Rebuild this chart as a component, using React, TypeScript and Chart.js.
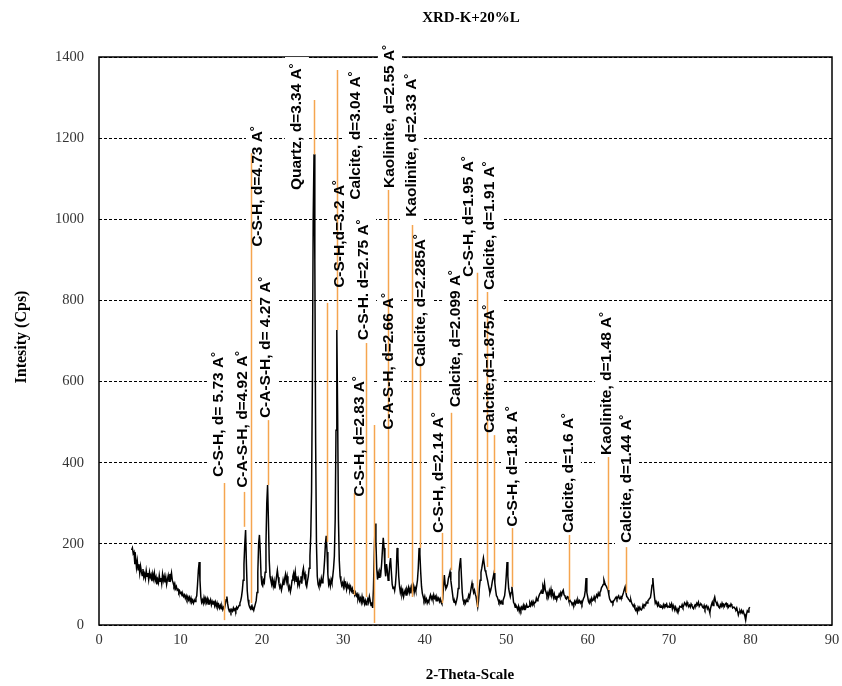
import React, { useEffect, useRef } from "react";
import { Chart, registerables } from "chart.js";

Chart.register(...registerables);

const chartTitle = "XRD-K+20%L";
const xAxisTitle = "2-Theta-Scale";
const yAxisTitle = "Intesity (Cps)";

const twoTheta = [
  4.0, 4.1, 4.2, 4.3, 4.4, 4.5, 4.6, 4.7, 4.8, 4.9,
  5.0, 5.1, 5.2, 5.3, 5.4, 5.5, 5.6, 5.7, 5.8, 5.9,
  6.0, 6.1, 6.2, 6.3, 6.4, 6.5, 6.6, 6.7, 6.8, 6.9,
  7.0, 7.1, 7.2, 7.3, 7.4, 7.5, 7.6, 7.7, 7.8, 7.9,
  8.0, 8.1, 8.2, 8.3, 8.4, 8.5, 8.6, 8.7, 8.8, 8.9,
  9.0, 9.1, 9.2, 9.3, 9.4, 9.5, 9.6, 9.7, 9.8, 9.9,
  10.0, 10.1, 10.2, 10.3, 10.4, 10.5, 10.6, 10.7, 10.8, 10.9,
  11.0, 11.1, 11.2, 11.3, 11.4, 11.5, 11.6, 11.7, 11.8, 11.9,
  12.0, 12.1, 12.2, 12.3, 12.4, 12.5, 12.6, 12.7, 12.8, 12.9,
  13.0, 13.1, 13.2, 13.3, 13.4, 13.5, 13.6, 13.7, 13.8, 13.9,
  14.0, 14.1, 14.2, 14.3, 14.4, 14.5, 14.6, 14.7, 14.8, 14.9,
  15.0, 15.1, 15.2, 15.3, 15.4, 15.5, 15.6, 15.7, 15.8, 15.9,
  16.0, 16.1, 16.2, 16.3, 16.4, 16.5, 16.6, 16.7, 16.8, 16.9,
  17.0, 17.1, 17.2, 17.3, 17.4, 17.5, 17.6, 17.7, 17.8, 17.9,
  18.0, 18.1, 18.2, 18.3, 18.4, 18.5, 18.6, 18.7, 18.8, 18.9,
  19.0, 19.1, 19.2, 19.3, 19.4, 19.5, 19.6, 19.7, 19.8, 19.9,
  20.0, 20.1, 20.2, 20.3, 20.4, 20.5, 20.6, 20.7, 20.8, 20.9,
  21.0, 21.1, 21.2, 21.3, 21.4, 21.5, 21.6, 21.7, 21.8, 21.9,
  22.0, 22.1, 22.2, 22.3, 22.4, 22.5, 22.6, 22.7, 22.8, 22.9,
  23.0, 23.1, 23.2, 23.3, 23.4, 23.5, 23.6, 23.7, 23.8, 23.9,
  24.0, 24.1, 24.2, 24.3, 24.4, 24.5, 24.6, 24.7, 24.8, 24.9,
  25.0, 25.1, 25.2, 25.3, 25.4, 25.5, 25.6, 25.7, 25.8, 25.9,
  26.0, 26.1, 26.2, 26.3, 26.4, 26.5, 26.6, 26.7, 26.8, 26.9,
  27.0, 27.1, 27.2, 27.3, 27.4, 27.5, 27.6, 27.7, 27.8, 27.9,
  28.0, 28.1, 28.2, 28.3, 28.4, 28.5, 28.6, 28.7, 28.8, 28.9,
  29.0, 29.1, 29.2, 29.3, 29.4, 29.5, 29.6, 29.7, 29.8, 29.9,
  30.0, 30.1, 30.2, 30.3, 30.4, 30.5, 30.6, 30.7, 30.8, 30.9,
  31.0, 31.1, 31.2, 31.3, 31.4, 31.5, 31.6, 31.7, 31.8, 31.9,
  32.0, 32.1, 32.2, 32.3, 32.4, 32.5, 32.6, 32.7, 32.8, 32.9,
  33.0, 33.1, 33.2, 33.3, 33.4, 33.5, 33.6, 33.7, 33.8, 33.9,
  34.0, 34.1, 34.2, 34.3, 34.4, 34.5, 34.6, 34.7, 34.8, 34.9,
  35.0, 35.1, 35.2, 35.3, 35.4, 35.5, 35.6, 35.7, 35.8, 35.9,
  36.0, 36.1, 36.2, 36.3, 36.4, 36.5, 36.6, 36.7, 36.8, 36.9,
  37.0, 37.1, 37.2, 37.3, 37.4, 37.5, 37.6, 37.7, 37.8, 37.9,
  38.0, 38.1, 38.2, 38.3, 38.4, 38.5, 38.6, 38.7, 38.8, 38.9,
  39.0, 39.1, 39.2, 39.3, 39.4, 39.5, 39.6, 39.7, 39.8, 39.9,
  40.0, 40.1, 40.2, 40.3, 40.4, 40.5, 40.6, 40.7, 40.8, 40.9,
  41.0, 41.1, 41.2, 41.3, 41.4, 41.5, 41.6, 41.7, 41.8, 41.9,
  42.0, 42.1, 42.2, 42.3, 42.4, 42.5, 42.6, 42.7, 42.8, 42.9,
  43.0, 43.1, 43.2, 43.3, 43.4, 43.5, 43.6, 43.7, 43.8, 43.9,
  44.0, 44.1, 44.2, 44.3, 44.4, 44.5, 44.6, 44.7, 44.8, 44.9,
  45.0, 45.1, 45.2, 45.3, 45.4, 45.5, 45.6, 45.7, 45.8, 45.9,
  46.0, 46.1, 46.2, 46.3, 46.4, 46.5, 46.6, 46.7, 46.8, 46.9,
  47.0, 47.1, 47.2, 47.3, 47.4, 47.5, 47.6, 47.7, 47.8, 47.9,
  48.0, 48.1, 48.2, 48.3, 48.4, 48.5, 48.6, 48.7, 48.8, 48.9,
  49.0, 49.1, 49.2, 49.3, 49.4, 49.5, 49.6, 49.7, 49.8, 49.9,
  50.0, 50.1, 50.2, 50.3, 50.4, 50.5, 50.6, 50.7, 50.8, 50.9,
  51.0, 51.1, 51.2, 51.3, 51.4, 51.5, 51.6, 51.7, 51.8, 51.9,
  52.0, 52.1, 52.2, 52.3, 52.4, 52.5, 52.6, 52.7, 52.8, 52.9,
  53.0, 53.1, 53.2, 53.3, 53.4, 53.5, 53.6, 53.7, 53.8, 53.9,
  54.0, 54.1, 54.2, 54.3, 54.4, 54.5, 54.6, 54.7, 54.8, 54.9,
  55.0, 55.1, 55.2, 55.3, 55.4, 55.5, 55.6, 55.7, 55.8, 55.9,
  56.0, 56.1, 56.2, 56.3, 56.4, 56.5, 56.6, 56.7, 56.8, 56.9,
  57.0, 57.1, 57.2, 57.3, 57.4, 57.5, 57.6, 57.7, 57.8, 57.9,
  58.0, 58.1, 58.2, 58.3, 58.4, 58.5, 58.6, 58.7, 58.8, 58.9,
  59.0, 59.1, 59.2, 59.3, 59.4, 59.5, 59.6, 59.7, 59.8, 59.9,
  60.0, 60.1, 60.2, 60.3, 60.4, 60.5, 60.6, 60.7, 60.8, 60.9,
  61.0, 61.1, 61.2, 61.3, 61.4, 61.5, 61.6, 61.7, 61.8, 61.9,
  62.0, 62.1, 62.2, 62.3, 62.4, 62.5, 62.6, 62.7, 62.8, 62.9,
  63.0, 63.1, 63.2, 63.3, 63.4, 63.5, 63.6, 63.7, 63.8, 63.9,
  64.0, 64.1, 64.2, 64.3, 64.4, 64.5, 64.6, 64.7, 64.8, 64.9,
  65.0, 65.1, 65.2, 65.3, 65.4, 65.5, 65.6, 65.7, 65.8, 65.9,
  66.0, 66.1, 66.2, 66.3, 66.4, 66.5, 66.6, 66.7, 66.8, 66.9,
  67.0, 67.1, 67.2, 67.3, 67.4, 67.5, 67.6, 67.7, 67.8, 67.9,
  68.0, 68.1, 68.2, 68.3, 68.4, 68.5, 68.6, 68.7, 68.8, 68.9,
  69.0, 69.1, 69.2, 69.3, 69.4, 69.5, 69.6, 69.7, 69.8, 69.9,
  70.0, 70.1, 70.2, 70.3, 70.4, 70.5, 70.6, 70.7, 70.8, 70.9,
  71.0, 71.1, 71.2, 71.3, 71.4, 71.5, 71.6, 71.7, 71.8, 71.9,
  72.0, 72.1, 72.2, 72.3, 72.4, 72.5, 72.6, 72.7, 72.8, 72.9,
  73.0, 73.1, 73.2, 73.3, 73.4, 73.5, 73.6, 73.7, 73.8, 73.9,
  74.0, 74.1, 74.2, 74.3, 74.4, 74.5, 74.6, 74.7, 74.8, 74.9,
  75.0, 75.1, 75.2, 75.3, 75.4, 75.5, 75.6, 75.7, 75.8, 75.9,
  76.0, 76.1, 76.2, 76.3, 76.4, 76.5, 76.6, 76.7, 76.8, 76.9,
  77.0, 77.1, 77.2, 77.3, 77.4, 77.5, 77.6, 77.7, 77.8, 77.9,
  78.0, 78.1, 78.2, 78.3, 78.4, 78.5, 78.6, 78.7, 78.8, 78.9,
  79.0, 79.1, 79.2, 79.3, 79.4, 79.5, 79.6, 79.7, 79.8, 79.9,
];

const intensity = [
  185, 190, 176, 180, 150, 165, 142, 158, 136, 150,
  128, 145, 132, 122, 138, 118, 126, 115, 134, 120,
  128, 112, 130, 118, 124, 108, 126, 114, 128, 110,
  118, 100, 112, 104, 122, 108, 116, 102, 125, 110,
  120, 105, 118, 100, 112, 122, 108, 126, 115, 128,
  110, 104, 96, 102, 90, 95, 86, 88, 80, 84,
  78, 80, 72, 76, 70, 74, 66, 72, 64, 70,
  62, 68, 58, 66, 56, 60, 54, 62, 58, 66,
  72, 100, 135, 155, 110, 70, 56, 62, 54, 68,
  60, 66, 56, 64, 52, 60, 55, 62, 50, 58,
  52, 60, 48, 56, 46, 54, 44, 50, 42, 48,
  40, 46, 38, 44, 40, 50, 62, 70, 52, 40,
  34, 38, 32, 38, 34, 42, 36, 40, 35, 44,
  40, 44, 48, 54, 60, 70, 86, 110, 150, 200,
  234, 150, 85, 62, 50, 44, 40, 46, 38, 42,
  36, 44, 52, 60, 80, 130, 200, 222, 180, 120,
  100, 96, 110, 105, 130, 200, 300, 345, 260, 160,
  120, 110, 100, 112, 96, 108, 90, 104, 120, 135,
  118, 102, 92, 98, 86, 96, 110, 98, 115, 125,
  108, 120, 100, 88, 95, 82, 92, 110, 120, 128,
  112, 130, 108, 120, 100, 112, 98, 108, 120, 102,
  130, 140, 118, 125, 100, 94, 108, 120, 140, 170,
  220, 330, 600, 1000, 1160, 900, 450, 200, 120, 100,
  94, 108, 100, 115, 104, 112, 130, 160, 200, 220,
  180, 125, 100, 108, 96, 112, 104, 120, 140, 170,
  260, 480, 727, 520, 260, 160, 120, 108, 98, 104,
  94, 108, 96, 102, 88, 100, 92, 98, 86, 94,
  84, 90, 78, 86, 74, 80, 72, 76, 64, 72,
  60, 66, 56, 70, 58, 64, 52, 60, 50, 58,
  64, 56, 70, 60, 48, 56, 42, 90, 180, 250,
  205, 140, 112, 128, 118, 132, 126, 150, 185, 215,
  190, 140, 120, 150, 135, 110, 120, 150, 165, 130,
  100, 90, 95, 85, 100, 130, 190, 170, 120, 95,
  80, 90, 75, 84, 70, 80, 86, 74, 88, 82,
  92, 80, 90, 78, 94, 86, 96, 80, 92, 84,
  96, 110, 140, 190, 175, 130, 95, 78, 70, 62,
  70, 58, 64, 54, 60, 56, 68, 74, 64, 70,
  62, 74, 66, 70, 60, 68, 62, 66, 58, 64,
  56, 52, 64, 95, 123, 100, 90, 94, 100, 115,
  122, 131, 110, 94, 78, 62, 56, 58, 52, 60,
  70, 90, 130, 150, 165, 120, 80, 62, 56, 60,
  54, 62, 58, 66, 74, 68, 80, 92, 103, 90,
  80, 86, 76, 70, 56, 44, 60, 90, 110, 130,
  140, 153, 165, 150, 135, 130, 120, 111, 100, 90,
  79, 86, 95, 108, 118, 128, 104, 86, 72, 69,
  62, 56, 60, 54, 58, 52, 60, 66, 72, 90,
  120, 155, 120, 90, 79, 70, 80, 94, 76, 56,
  52, 44, 48, 44, 38, 46, 34, 42, 36, 44,
  40, 48, 38, 46, 42, 50, 44, 44, 46, 54,
  48, 56, 50, 58, 52, 54, 56, 66, 60, 64,
  70, 76, 79, 84, 78, 95, 88, 103, 86, 80,
  72, 79, 70, 84, 76, 88, 74, 81, 68, 76,
  64, 72, 62, 70, 69, 76, 70, 80, 74, 82,
  86, 74, 72, 66, 64, 70, 69, 60, 62, 58,
  56, 50, 54, 50, 58, 52, 60, 54, 62, 56,
  60, 54, 58, 52, 60, 66, 70, 84, 116, 80,
  70, 58, 54, 62, 56, 66, 60, 62, 70, 64,
  68, 74, 69, 78, 72, 80, 84, 92, 95, 100,
  111, 104, 98, 95, 90, 86, 74, 64, 60, 56,
  58, 54, 60, 62, 66, 69, 64, 69, 72, 65,
  65, 70, 68, 74, 80, 88, 94, 80, 70, 68,
  64, 62, 58, 62, 54, 50, 46, 50, 40, 36,
  40, 32, 44, 40, 44, 38, 37, 42, 50, 46,
  50, 48, 56, 54, 60, 62, 66, 67, 80, 98,
  116, 90, 70, 54, 58, 52, 48, 54, 46, 44,
  48, 46, 42, 50, 44, 50, 48, 52, 44, 46,
  44, 50, 46, 52, 40, 48, 42, 36, 44, 38,
  32, 40, 38, 46, 45, 44, 50, 44, 48, 55,
  52, 48, 56, 50, 46, 49, 44, 52, 48, 42,
  40, 46, 50, 48, 54, 50, 56, 46, 50, 52,
  50, 44, 42, 48, 40, 46, 48, 40, 44, 38,
  30, 42, 50, 56, 48, 62, 69, 58, 55, 48,
  50, 44, 42, 50, 46, 54, 48, 50, 46, 52,
  54, 48, 50, 44, 48, 46, 52, 48, 42, 44,
  44, 40, 38, 42, 34, 25, 32, 35, 30, 36,
  30, 34, 28, 22, 12, 26, 35, 32, 40, 44,
];

const xTickValues = [0, 10, 20, 30, 40, 50, 60, 70, 80, 90];
const yTickValues = [0, 200, 400, 600, 800, 1000, 1200, 1400];

const peakLabels = [
  "C-S-H, d= 5.73 A˚",
  "C-A-S-H, d=4.92 A˚",
  "C-S-H, d=4.73 A˚",
  "C-A-S-H, d= 4.27 A˚",
  "Quartz, d=3.34 A˚",
  "C-S-H,d=3.2 A˚",
  "Calcite, d=3.04 A˚",
  "C-S-H, d=2.83 A˚",
  "C-S-H. d=2.75 A˚",
  "C-A-S-H, d=2.66 A˚",
  "Kaolinite, d=2.55 A˚",
  "Kaolinite, d=2.33 A˚",
  "Calcite, d=2.285A˚",
  "Calcite, d=2.099 A˚",
  "C-S-H, d=2.14 A˚",
  "C-S-H, d=1.95 A˚",
  "Calcite, d=1.91 A˚",
  "Calcite,d=1.875A˚",
  "C-S-H, d=1.81 A˚",
  "Calcite, d=1.6 A˚",
  "Kaolinite, d=1.48 A˚",
  "Calcite, d=1.44 A˚",
];
// label anchor: 2θ of label centre, intensity where the text starts (bottom)
const labelTheta = [14.73, 17.68, 19.52, 20.5, 24.3, 29.6, 31.56, 32.05, 32.54, 35.6, 35.73, 38.43, 39.54, 43.84, 41.75, 45.43, 48.0, 48.0, 50.83, 57.7, 62.38, 64.83];
const labelBase = [365, 338, 932, 510, 1072, 831, 1048, 316, 702, 481, 1077, 1006, 636, 537, 227, 858, 826, 473, 242, 227, 419, 202];

// orange marker lines
const markTheta = [15.35, 17.8, 18.66, 20.75, 26.35, 28.05, 29.22, 31.3, 32.8, 33.77, 35.5, 38.43, 39.4, 42.1, 43.2, 46.4, 47.6, 48.5, 50.7, 57.7, 62.5, 64.7];
const markTop = [350, 328, 1163, 505, 1294, 794, 1368, 325, 695, 493, 1072, 986, 638, 227, 523, 868, 821, 468, 239, 222, 414, 192];
const markBottom = [12, 242, 54, 345, 1160, 205, 727, 74, 69, 5, 165, 69, 190, 54, 135, 44, 143, 128, 94, 62, 86, 79];

const LABEL_FONT = 'bold 15.5px "Liberation Sans", Arial, sans-serif';
const SERIF = '"Liberation Serif", "Times New Roman", serif';

const xrdPlugin = {
  id: "xrdDecor",
  beforeDatasetsDraw(chart: any) {
    const { ctx, chartArea: a, scales } = chart;
    const x = scales.x, y = scales.y;
    ctx.save();
    ctx.strokeStyle = "#000";
    ctx.lineWidth = 1.5;
    ctx.strokeRect(a.left, a.top, a.right - a.left, a.bottom - a.top);
    ctx.font = LABEL_FONT;
    ctx.fillStyle = "#fff";
    peakLabels.forEach((t, i) => {
      const cx = x.getPixelForValue(labelTheta[i]);
      const by = y.getPixelForValue(labelBase[i]);
      const w = ctx.measureText(t).width;
      ctx.fillRect(cx - 12, by - w - 6, 24, w + 14);
    });
    ctx.restore();
  },
  afterDatasetsDraw(chart: any) {
    const { ctx, scales } = chart;
    const x = scales.x, y = scales.y;
    ctx.save();
    ctx.strokeStyle = "#F5A54F";
    ctx.lineWidth = 1.5;
    markTheta.forEach((t, i) => {
      const px = Math.round(x.getPixelForValue(t)) + 0.5;
      ctx.beginPath();
      ctx.moveTo(px, y.getPixelForValue(markTop[i]));
      ctx.lineTo(px, y.getPixelForValue(markBottom[i]));
      ctx.stroke();
    });
    ctx.fillStyle = "#000";
    ctx.font = LABEL_FONT;
    ctx.textAlign = "left";
    ctx.textBaseline = "middle";
    peakLabels.forEach((t, i) => {
      const cx = x.getPixelForValue(labelTheta[i]);
      const by = y.getPixelForValue(labelBase[i]);
      ctx.save();
      ctx.translate(cx, by);
      ctx.rotate(-Math.PI / 2);
      ctx.fillText(t, 0, 0);
      ctx.restore();
    });
    ctx.restore();
  },
  afterDraw(chart: any) {
    const { ctx } = chart;
    ctx.save();
    ctx.fillStyle = "#000";
    ctx.textAlign = "center";
    ctx.textBaseline = "middle";
    ctx.font = `bold 15px ${SERIF}`;
    ctx.fillText(chartTitle, 471, 18);
    ctx.fillText(xAxisTitle, 470, 675);
    ctx.font = `bold 16px ${SERIF}`;
    ctx.translate(22, 337);
    ctx.rotate(-Math.PI / 2);
    ctx.fillText(yAxisTitle, 0, 0);
    ctx.restore();
  },
};

export default function App() {
  const ref = useRef<HTMLCanvasElement | null>(null);
  useEffect(() => {
    if (!ref.current) return;
    const chart = new Chart(ref.current, {
      type: "line",
      data: {
        datasets: [
          {
            data: twoTheta.map((t, i) => ({ x: t, y: intensity[i] })),
            borderColor: "#000",
            borderWidth: 1.5,
            pointRadius: 0,
            tension: 0,
            fill: false,
          },
        ],
      },
      options: {
        responsive: false,
        animation: false,
        devicePixelRatio: 1,
        layout: { padding: { top: 57, right: 10, left: 8, bottom: 0 } },
        plugins: { legend: { display: false }, tooltip: { enabled: false }, title: { display: false } },
        scales: {
          x: {
            type: "linear",
            min: 0,
            max: 90,
            afterBuildTicks: (s: any) => { s.ticks = xTickValues.map((v) => ({ value: v })); },
            afterFit: (s: any) => { s.height = 61; s.paddingLeft = 0; s.paddingRight = 0; },
            grid: { display: false, drawTicks: false },
            border: { display: false },
            ticks: { font: { family: SERIF, size: 14.5 }, color: "#333", padding: 6, maxRotation: 0, callback: (v: any) => String(v) },
          },
          y: {
            min: 0,
            max: 1400,
            afterBuildTicks: (s: any) => { s.ticks = yTickValues.map((v) => ({ value: v })); },
            afterFit: (s: any) => { s.width = 91; s.paddingTop = 0; s.paddingBottom = 0; },
            grid: { color: "#000", lineWidth: 1, drawTicks: false },
            border: { display: false, dash: [3, 2] },
            ticks: { font: { family: SERIF, size: 14.5 }, color: "#333", padding: 15, callback: (v: any) => String(v) },
          },
        },
      },
      plugins: [xrdPlugin],
    });
    return () => chart.destroy();
  }, []);
  return (
    <div style={{ position: "absolute", left: 0, top: 0, width: 842, height: 686 }}>
      <canvas ref={ref} width={842} height={686} style={{ display: "block", width: 842, height: 686 }} />
    </div>
  );
}
